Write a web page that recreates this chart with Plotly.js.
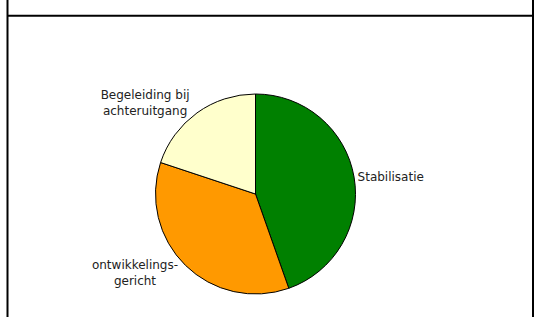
<!DOCTYPE html>
<html>
<head>
<meta charset="utf-8">
<script src="https://cdn.plot.ly/plotly-3.0.1.min.js"></script>
<style>html,body{margin:0;padding:0;background:#fff;}#chart{width:536px;height:317px;}</style>
</head>
<body>
<div id="chart"></div>
<script>
const labels = ["Stabilisatie", "ontwikkelings-<br>gericht", "Begeleiding bij<br>achteruitgang"];
const values = [44.6, 35.5, 19.9];
const colors = ["#008000", "#FF9900", "#FFFFCC"];

const W = 536, H = 317;
const trace = {
  type: "pie",
  labels: labels,
  values: values,
  sort: false,
  direction: "clockwise",
  rotation: 0,
  marker: {colors: colors, line: {color: "#000", width: 1}},
  textinfo: "label",
  textposition: "outside",
  outsidetextfont: {family: "DejaVu Sans", size: 12, color: "#222"},
  hoverinfo: "none",
  automargin: false,
  domain: {x: [155.5 / W, 355.5 / W], y: [23 / H, 223 / H]}
};
const layout = {
  width: W, height: H,
  margin: {l: 0, r: 0, t: 0, b: 0},
  showlegend: false,
  paper_bgcolor: "#fff",
  font: {family: "DejaVu Sans", size: 12, color: "#222"},
  shapes: [
    {type: "line", xref: "paper", yref: "paper", x0: 7.5 / W, x1: 7.5 / W, y0: -0.1, y1: 1.1, line: {color: "#000", width: 2}},
    {type: "line", xref: "paper", yref: "paper", x0: 533 / W, x1: 533 / W, y0: -0.1, y1: 1.1, line: {color: "#000", width: 2}},
    {type: "line", xref: "paper", yref: "paper", x0: 7.5 / W, x1: 533 / W, y0: 1 - 15.7 / H, y1: 1 - 15.7 / H, line: {color: "#000", width: 2}}
  ]
};
Plotly.newPlot("chart", [trace], layout, {staticPlot: true, displayModeBar: false});
</script>
</body>
</html>
